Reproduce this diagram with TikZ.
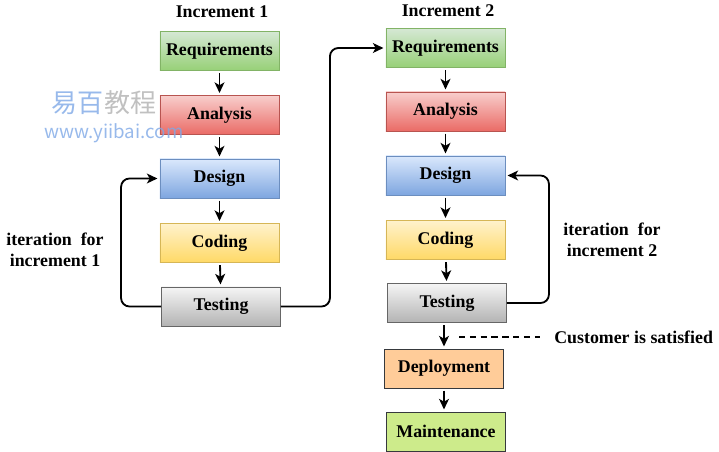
\documentclass[tikz,border=0pt]{standalone}
\usepackage{fontspec}
\setmainfont{Liberation Serif}
\newfontfamily\cjkfont{Noto Sans CJK SC}
\usepackage{tikz}
\usetikzlibrary{arrows.meta}

\definecolor{reqtop}{HTML}{D5E8D4}
\definecolor{reqbot}{HTML}{97D077}
\definecolor{reqline}{HTML}{82B366}
\definecolor{anatop}{HTML}{F8CECC}
\definecolor{anabot}{HTML}{EA6B66}
\definecolor{analine}{HTML}{B85450}
\definecolor{destop}{HTML}{DAE8FC}
\definecolor{desbot}{HTML}{7EA6E0}
\definecolor{desline}{HTML}{6C8EBF}
\definecolor{codtop}{HTML}{FFF2CC}
\definecolor{codbot}{HTML}{FFD966}
\definecolor{codline}{HTML}{D6B656}
\definecolor{testop}{HTML}{F5F5F5}
\definecolor{tesbot}{HTML}{B3B3B3}
\definecolor{tesline}{HTML}{666666}
\definecolor{depfill}{HTML}{FFCC99}
\definecolor{mainfill}{HTML}{CDEB8B}
\definecolor{darkline}{HTML}{36393D}
\definecolor{wmblue}{HTML}{7EA8E6}
\definecolor{wmgray}{HTML}{B0B0B0}

\begin{document}
\begin{tikzpicture}[x=0.025cm, y=-0.025cm,
    phase/.style={draw, line width=0.6pt, minimum width=2.975cm,
        minimum height=0.975cm, inner sep=0pt,
        font=\fontsize{12.7}{15}\selectfont\bfseries},
    reqbox/.style={phase, top color=reqtop, bottom color=reqbot, draw=reqline},
    anabox/.style={phase, top color=anatop, bottom color=anabot, draw=analine},
    desbox/.style={phase, top color=destop, bottom color=desbot, draw=desline},
    codbox/.style={phase, top color=codtop, bottom color=codbot, draw=codline},
    tesbox/.style={phase, top color=testop, bottom color=tesbot, draw=tesline},
    flow/.style={-{Stealth[length=7.5pt,width=7pt,inset=2pt]}, line width=1.3pt,
        rounded corners=6pt, shorten <=1.5pt, shorten >=1.5pt},
    note/.style={font=\fontsize{12.7}{15}\selectfont\bfseries, align=center, inner sep=0pt}]

    \useasboundingbox (0,0) rectangle (719,452);

    % increment 1
    \node[note] (inc1) at (222,12) {Increment 1};
    \node[reqbox] (req1) at (219.5,51) {Requirements};
    \node[anabox] (ana1) at (219.5,115) {Analysis};
    \node[desbox] (des1) at (219.5,178.5) {Design};
    \node[codbox] (cod1) at (219.5,243) {Coding};
    \node[tesbox] (tes1) at (221,306.5) {Testing};

    % increment 2
    \node[note] (inc2) at (448,11) {Increment 2};
    \node[reqbox] (req2) at (445.5,48) {Requirements};
    \node[anabox] (ana2) at (445.5,111.5) {Analysis};
    \node[desbox] (des2) at (445.5,175.5) {Design};
    \node[codbox] (cod2) at (445.5,240) {Coding};
    \node[tesbox] (tes2) at (447,303) {Testing};
    \node[phase, fill=depfill, draw=darkline] (dep) at (444,368.5) {Deployment};
    \node[phase, fill=mainfill, draw=darkline] (main) at (446,431.5) {Maintenance};

    \draw[flow] (req1) -- (ana1);
    \draw[flow] (ana1) -- (des1);
    \draw[flow] (des1) -- (cod1);
    \draw[flow] (cod1) -- (tes1);
    \draw[flow] (req2) -- (ana2);
    \draw[flow] (ana2) -- (des2);
    \draw[flow] (des2) -- (cod2);
    \draw[flow] (cod2) -- (tes2);
    \draw[flow] (tes2.south -| dep) -- (dep);
    \draw[flow] (dep) -- (dep |- main.north);

    % loops and hand-over
    \draw[flow, shorten <=0pt] (tes1.east) -- ++(49,0) |- (req2.west);
    \draw[flow, shorten <=0pt] (tes1.west) -- ++(-40,0) |- (des1.west);
    \draw[flow, shorten <=0pt] (tes2.east) -- ++(42,0) |- (des2.east);

    \node[note] (it1) at (55,250) {iteration\ \ for\\increment 1};
    \node[note] (it2) at (612,240) {iteration\ \ for\\increment 2};

    \node[note, anchor=west] (cust) at (554,337) {Customer is satisfied};
    \coordinate (dashA) at (459,337);
    \coordinate (dashB) at (540,337);
    \draw[line width=1.2pt, dash pattern=on 4.5pt off 3.2pt] (dashA) -- (dashB);

    % watermark
    \node[font=\cjkfont\fontsize{18.5}{20}\selectfont, text=wmblue, opacity=0.8,
        inner sep=0pt] (wm1) at (104,103) {易百\textcolor{wmgray}{教程}};
    \node[font=\cjkfont\fontsize{13.3}{15}\selectfont, text=wmblue, opacity=0.8,
        inner sep=0pt] (wm2) at (114,133) {www.yiibai.com};
\end{tikzpicture}
\end{document}
